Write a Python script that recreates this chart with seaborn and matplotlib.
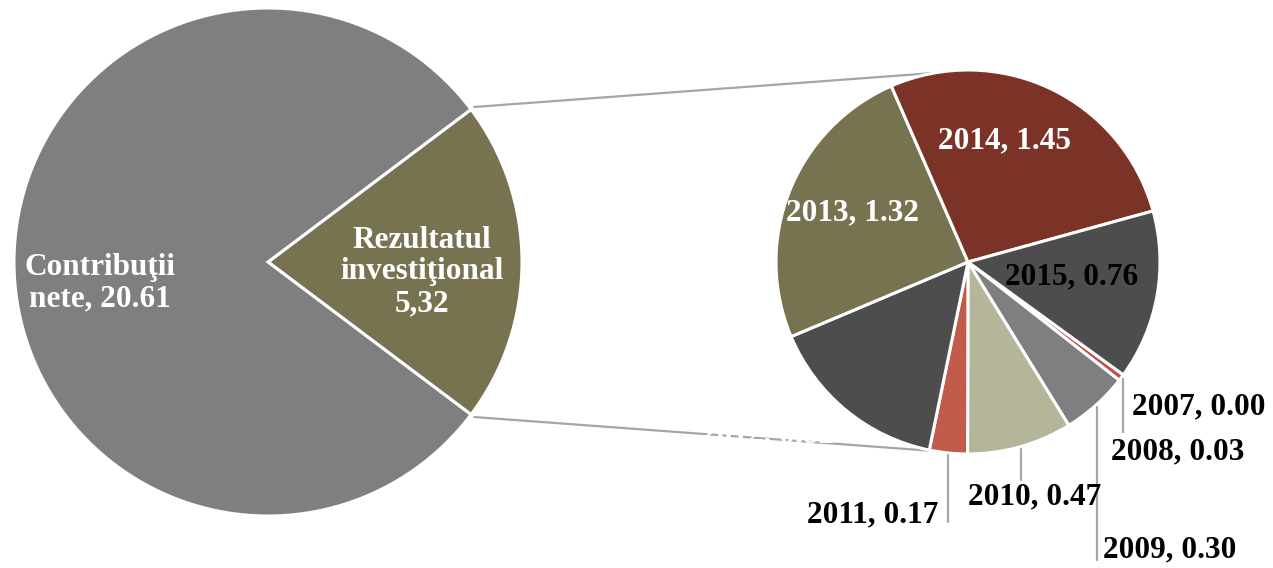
import numpy as np
import matplotlib
matplotlib.use("Agg")
import matplotlib.pyplot as plt
import seaborn as sns

# main pie
main_labels = ["Contribuţii\nnete, 20.61", "Rezultatul\ninvestiţional\n5,32"]
main_values = [20.61, 5.32]
main_colors = ["#7f7f7f", "#777350"]

# secondary pie (breakdown of investment result by year)
years = ["2007", "2008", "2009", "2010", "2011", "2012", "2013", "2014", "2015"]
year_values = [0.00, 0.03, 0.30, 0.47, 0.17, 0.82, 1.32, 1.45, 0.76]
year_colors = ["#4f81bd", "#c0504d", "#7f7f7f", "#b5b59a", "#c25b4c",
               "#4d4d4d", "#777350", "#7b3328", "#4d4d4d"]

sns.set_theme(style="white")
plt.rcParams["font.family"] = ["Liberation Serif", "DejaVu Serif"]

W, H = 1273, 568
fig = plt.figure(figsize=(W / 100, H / 100), dpi=100)
ax = fig.add_axes([0, 0, 1, 1])

def py(y):
    # pixel row -> data y
    return H - y

c1, r1 = (268, py(262)), 254
c2, r2 = (968, py(262)), 192
edge = dict(edgecolor="white", linewidth=2.2)

# left pie: investment slice centred on the right side
frac = main_values[1] / sum(main_values)
half = frac * 180
ax.pie(main_values[::-1], colors=main_colors[::-1], startangle=-half,
       center=c1, radius=r1, wedgeprops=edge, frame=True)

# right pie, clockwise from lower right
start2 = -36
ax.pie(year_values, colors=year_colors, startangle=start2, counterclock=False,
       center=c2, radius=r2, wedgeprops=edge, frame=True)
ax.set_xlim(0, W)
ax.set_ylim(0, H)
ax.set_aspect("equal")
ax.axis("off")

# connector lines
for sgn in (1, -1):
    a = np.deg2rad(sgn * half)
    b = np.deg2rad(sgn * 100)
    x0, y0 = c1[0] + (r1 + 4) * np.cos(a), c1[1] + (r1 + 4) * np.sin(a)
    x1, y1 = c2[0] + r2 * np.cos(b), c2[1] + r2 * np.sin(b)
    ax.plot([x0, x1], [y0, y1], color="#a6a6a6", lw=1.6, zorder=0.5)

fs = 22.5
bold = dict(fontsize=fs, fontweight="bold", linespacing=1.12)
ax.text(100, py(283), main_labels[0], color="white", ha="center", va="center", **bold)
ax.text(422, py(272), main_labels[1], color="white", ha="center", va="center", **bold)

# wedge middle angles for the right pie
cum = np.cumsum([0] + year_values)
tot = sum(year_values)
mids = {yr: start2 - (cum[i] + year_values[i] / 2) / tot * 360 for i, yr in enumerate(years)}

inside = {"2012": ((768, 435), "white"), "2013": ((853, 213), "white"),
          "2014": ((1004, 141), "white"), "2015": ((1072, 277), "black")}
outside = {"2007": ((1199, 407), None),
           "2008": ((1178, 452), 432),
           "2009": ((1170, 550), 560),
           "2010": ((1035, 497), 480),
           "2011": ((873, 515), 522)}

for i, yr in enumerate(years):
    txt = f"{yr}, {year_values[i]:.2f}"
    if yr in inside:
        (x, y), col = inside[yr]
        ax.text(x, py(y), txt, color=col, ha="center", va="center", **bold)
    else:
        (x, y), yend = outside[yr]
        ax.text(x, py(y), txt, color="black", ha="center", va="center", **bold)
        if yend is not None:
            a = np.deg2rad(mids[yr])
            lx = c2[0] + (r2 + 2) * np.cos(a)
            ly = c2[1] + (r2 + 2) * np.sin(a)
            ax.plot([lx, lx], [ly, py(yend)], color="#a6a6a6", lw=1.6)

fig.savefig("out.png", dpi=100)
